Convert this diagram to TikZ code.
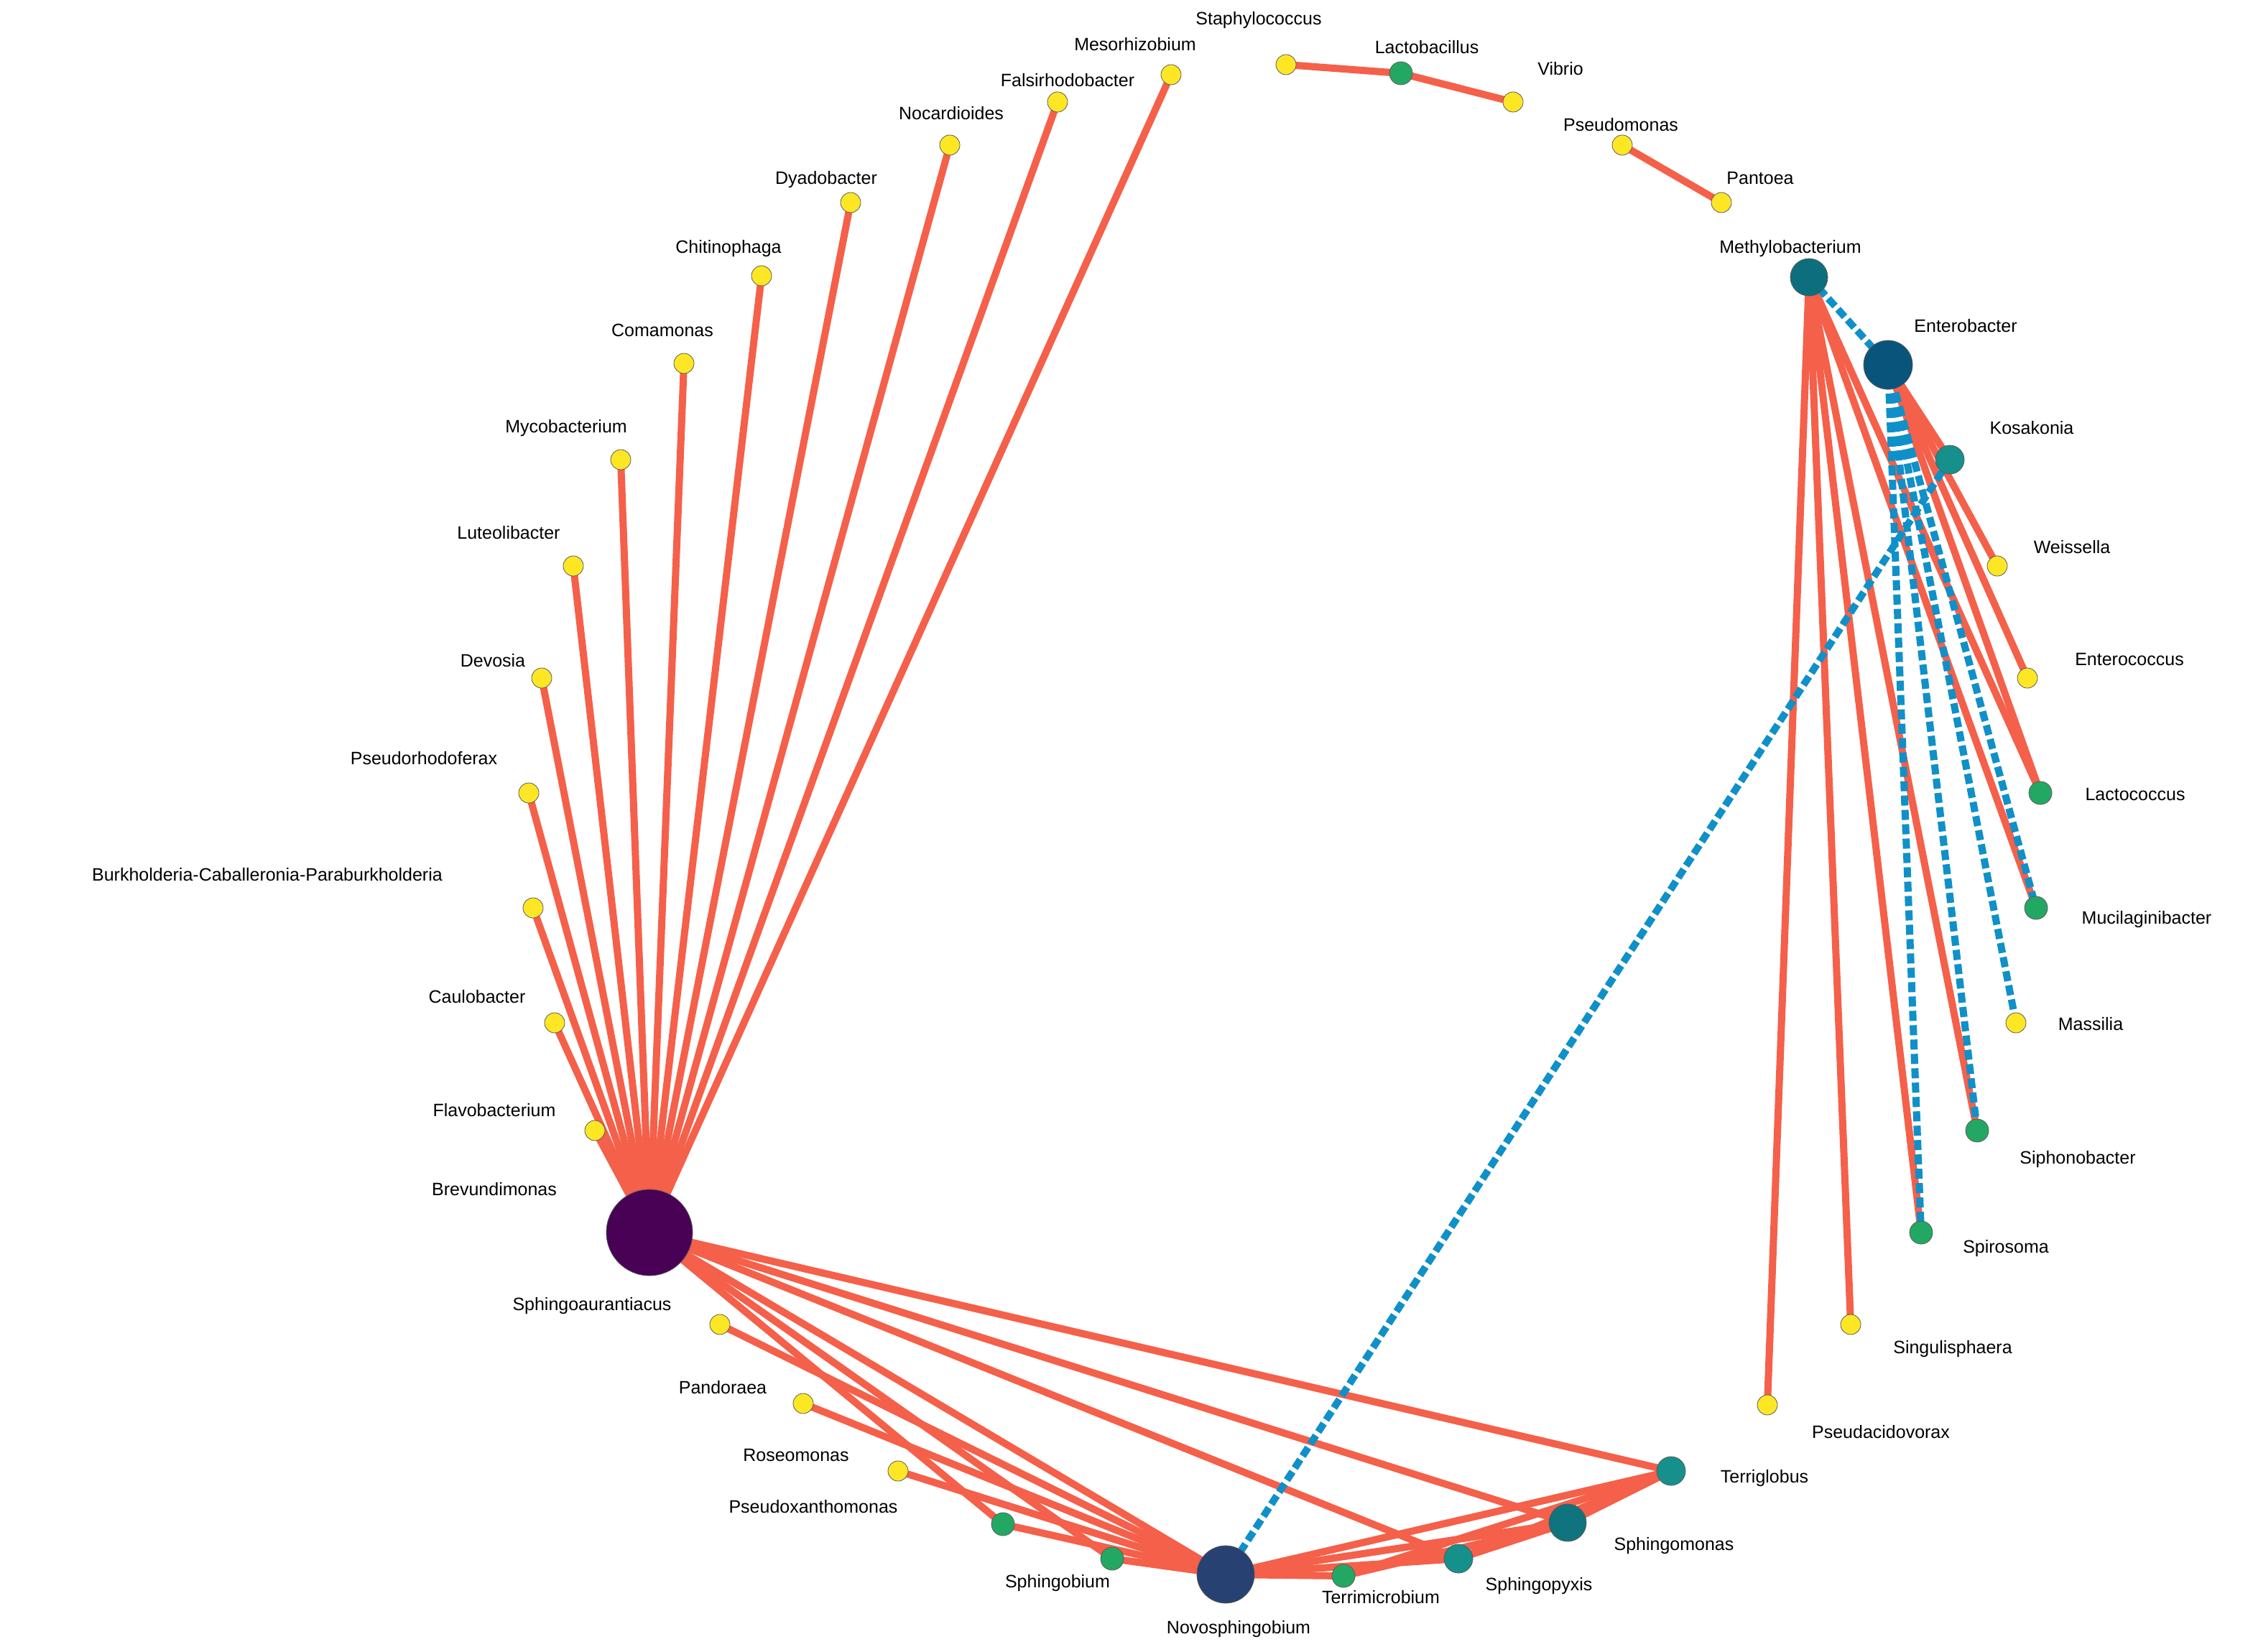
\documentclass[tikz,border=0pt]{standalone}
\usepackage{fontspec}
\setmainfont{Liberation Sans}
\definecolor{ered}{HTML}{F4604A}
\definecolor{eblue}{HTML}{1090C8}
\definecolor{cyel}{HTML}{FDE725}
\definecolor{cgrn}{HTML}{23A863}
\definecolor{ctea}{HTML}{16908A}
\pgfdeclarelayer{bg}
\pgfsetlayers{bg,main}
\begin{document}
\begin{tikzpicture}[x=1pt,y=-1pt,
 nd/.style={circle,inner sep=0pt,draw=gray!70!black,line width=0.4pt},
 yl/.style={nd,fill=cyel,minimum size=14pt},
 gn/.style={nd,fill=cgrn,minimum size=16pt},
 tl/.style={nd,fill=ctea,minimum size=20pt},
 re/.style={ered,line width=5pt},
 be/.style={eblue,line width=5pt,dash pattern=on 7pt off 3pt},
 lb/.style={font=\fontsize{12.5}{14}\selectfont,inner sep=0pt}]
\useasboundingbox (0,0) rectangle (1568,1150);
% nodes
\node[nd,fill={rgb,255:red,72;green,1;blue,85},minimum size=60pt] (brev) at (452,858) {};
\node[nd,fill={rgb,255:red,39;green,65;blue,114},minimum size=40pt] (novo) at (853,1096) {};
\node[nd,fill={rgb,255:red,8;green,84;blue,122},minimum size=34pt] (entb) at (1314,254) {};
\node[nd,fill={rgb,255:red,13;green,111;blue,125},minimum size=26pt] (meth) at (1259,193) {};
\node[nd,fill={rgb,255:red,16;green,116;blue,126},minimum size=26pt] (sphm) at (1091,1060) {};
\node[tl] (kosa) at (1357,320) {};
\node[tl] (terg) at (1163,1024) {};
\node[tl] (sphx) at (1015,1085) {};
\node[gn] (lacb) at (975,51) {};
\node[gn] (lacc) at (1420,552) {};
\node[gn] (muci) at (1417,632) {};
\node[gn] (siph) at (1376,787) {};
\node[gn] (spir) at (1337,858) {};
\node[gn] (psxa) at (698,1061) {};
\node[gn] (spbi) at (774,1085) {};
\node[gn] (term) at (935,1097) {};
\foreach \n/\x/\yy in {stap/895/45,vibr/1053/71,psdm/1129/101,pant/1198/141,meso/815/52,fals/736/71,noca/661/101,dyad/592/141,chit/530/192,coma/476/253,myco/432/320,lute/399/394,devo/377/472,psrh/368/552,burk/371/632,caul/386/712,flav/414/787,spau/501/922,pand/559/977,rose/625/1024,weis/1390/394,ente/1411/472,mass/1403/712,sing/1288/922,psac/1230/978}
  \node[yl] (\n) at (\x,\yy) {};
\begin{pgfonlayer}{bg}
\foreach \a/\b in {brev/flav,brev/caul,brev/burk,brev/psrh,brev/devo,brev/lute,brev/myco,brev/coma,brev/chit,brev/dyad,brev/noca,brev/fals,brev/meso,brev/novo,brev/spbi,brev/psxa,brev/sphm,brev/terg,brev/sphx,spau/novo,pand/novo,rose/novo,psxa/novo,spbi/novo,novo/term,novo/sphx,novo/sphm,novo/terg,term/terg,term/sphm,sphx/sphm,sphx/terg,sphm/terg,stap/lacb,lacb/vibr,psdm/pant,meth/psac,meth/sing,meth/spir,meth/siph,meth/muci,meth/lacc,entb/kosa,entb/weis,entb/ente,entb/lacc}
  \draw[re] (\a.center) -- (\b.center);
\foreach \a/\b in {meth/entb,entb/mass,entb/siph,entb/spir,entb/muci,kosa/novo}
  \draw[be] (\a.center) -- (\b.center);
\end{pgfonlayer}
% labels
\foreach \x/\yy/\t in {876/14/Staphylococcus,993/33/Lactobacillus,1086/48/Vibrio,1128/87/Pseudomonas,1225/124/Pantoea,1246/173/Methylobacterium,1368/227/Enterobacter,1414/298/Kosakonia,1442/381/Weissella,1482/459/Enterococcus,1486/553/Lactococcus,1494/640/Mucilaginibacter,1455/713/Massilia,1446/807/Siphonobacter,1396/869/Spirosoma,1359/939/Singulisphaera,1309/997/Pseudacidovorax,1228/1029/Terriglobus,1165/1076/Sphingomonas,1071/1104/Sphingopyxis,961/1112/Terrimicrobium,862/1134/Novosphingobium,736/1102/Sphingobium,566/1049/Pseudoxanthomonas,554/1013/Roseomonas,503/966/Pandoraea,412/909/Sphingoaurantiacus,344/828/Brevundimonas,344/773/Flavobacterium,332/694/Caulobacter,186/609/Burkholderia-Caballeronia-Paraburkholderia,295/528/Pseudorhodoferax,343/460/Devosia,354/371/Luteolibacter,394/298/Mycobacterium,461/230/Comamonas,507/173/Chitinophaga,575/125/Dyadobacter,662/79/Nocardioides,743/56/Falsirhodobacter,790/31/Mesorhizobium}
  \node[lb] at (\x,\yy) {\t};
\end{tikzpicture}
\end{document}
